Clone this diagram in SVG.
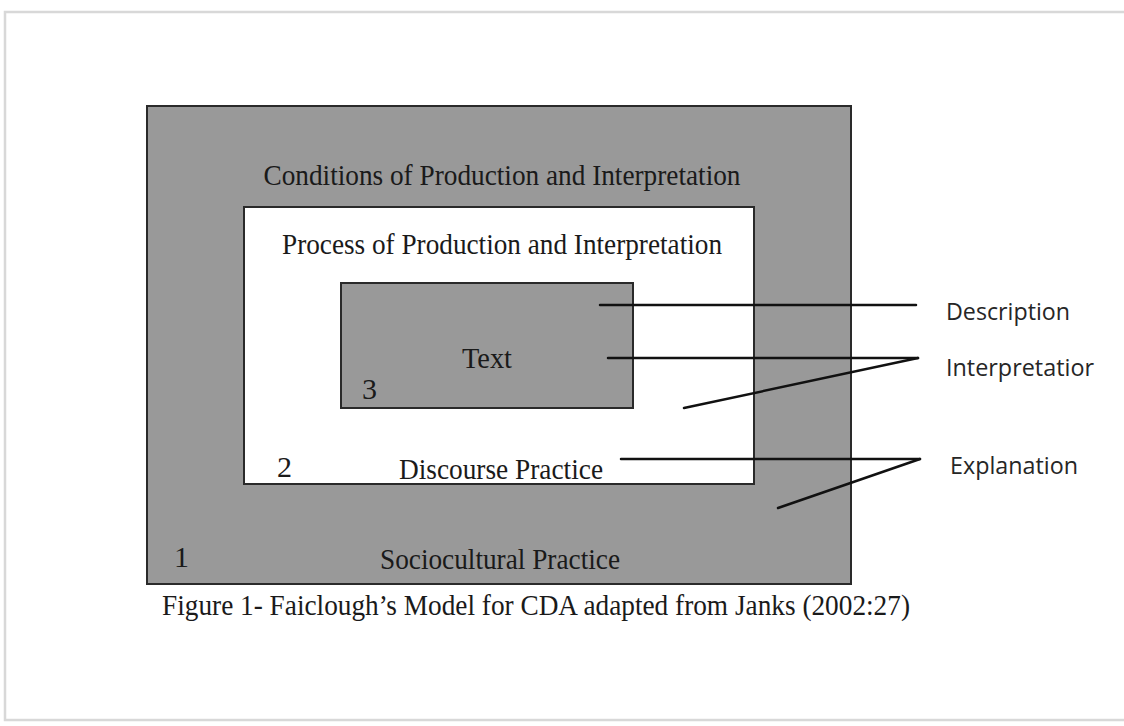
<svg xmlns="http://www.w3.org/2000/svg" width="1124" height="726" viewBox="0 0 1124 726">
<style>
.serif{font-family:"Liberation Serif","Times New Roman",serif;fill:#1a1a1a;font-size:30px}
.sans{font-family:"Open Sans","Liberation Sans",sans-serif;fill:#262626;font-size:24px}
.box{stroke:#2a2a2a;stroke-width:2}
.conn line{stroke:#111;stroke-width:2.5;stroke-linecap:round}
</style>
<rect x="0" y="0" width="1124" height="726" fill="#ffffff"/>
<rect x="5" y="12" width="1130" height="708" fill="#ffffff" stroke="#d8d8d8" stroke-width="2.5"/>
<g id="sociocultural">
<rect class="box" x="147" y="106" width="704" height="478" fill="#999999"/>
<text class="serif" x="502" y="185" text-anchor="middle" textLength="477" lengthAdjust="spacingAndGlyphs">Conditions of Production and Interpretation</text>
<text class="serif" x="174" y="567">1</text>
<text class="serif" x="500" y="569" text-anchor="middle" textLength="240" lengthAdjust="spacingAndGlyphs">Sociocultural Practice</text>
</g>
<g id="discourse">
<rect class="box" x="244" y="207" width="510" height="277" fill="#ffffff"/>
<text class="serif" x="502" y="254" text-anchor="middle" textLength="440" lengthAdjust="spacingAndGlyphs">Process of Production and Interpretation</text>
<text class="serif" x="277" y="477">2</text>
<text class="serif" x="501" y="479" text-anchor="middle" textLength="204" lengthAdjust="spacingAndGlyphs">Discourse Practice</text>
</g>
<g id="text">
<rect class="box" x="341" y="283" width="292" height="125" fill="#999999"/>
<text class="serif" x="487" y="368" text-anchor="middle" textLength="50" lengthAdjust="spacingAndGlyphs">Text</text>
<text class="serif" x="362" y="399">3</text>
</g>
<g class="conn" id="connectors">
<line x1="600" y1="305" x2="916" y2="305"/>
<line x1="608" y1="358" x2="918" y2="358"/>
<line x1="918" y1="358" x2="684" y2="408"/>
<line x1="621" y1="459" x2="920" y2="459"/>
<line x1="920" y1="459" x2="778" y2="508"/>
</g>
<g id="labels">
<text class="sans" x="946" y="320" textLength="124" lengthAdjust="spacingAndGlyphs">Description</text>
<text class="sans" x="946" y="376" textLength="148" lengthAdjust="spacingAndGlyphs">Interpretatior</text>
<text class="sans" x="950" y="474" textLength="128" lengthAdjust="spacingAndGlyphs">Explanation</text>
</g>
<text class="serif" x="536" y="615" text-anchor="middle" textLength="748" lengthAdjust="spacingAndGlyphs">Figure 1- Faiclough’s Model for CDA adapted from Janks (2002:27)</text>
</svg>
